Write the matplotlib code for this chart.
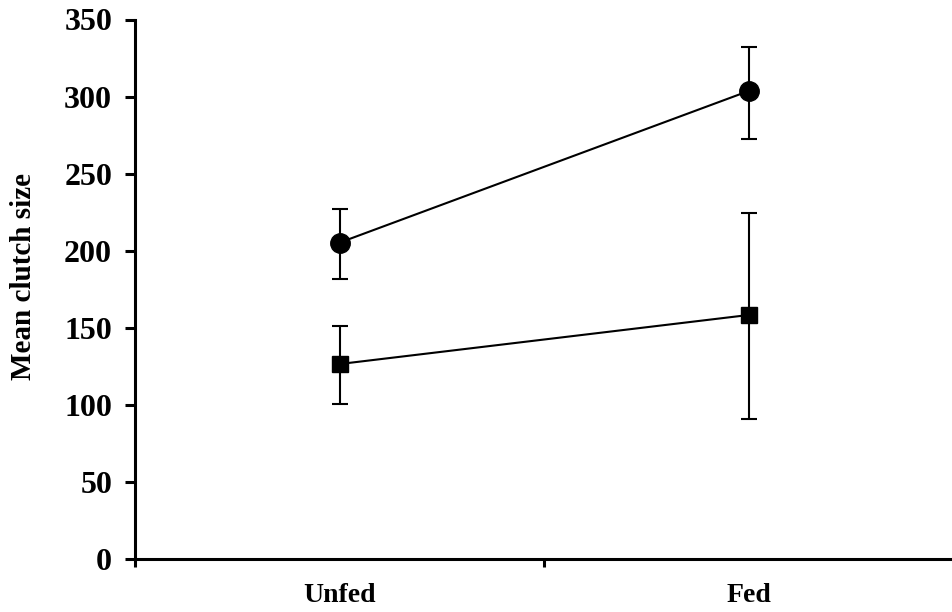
import matplotlib.pyplot as plt
import numpy as np

# Data
categories = ["Unfed", "Fed"]
circle_mean = [205.3, 303.6]
circle_low = [181.5, 272.7]
circle_high = [226.9, 332.0]
square_mean = [126.6, 158.4]
square_low = [100.9, 90.8]
square_high = [151.3, 224.5]

plt.rcParams['font.family'] = ['Liberation Serif', 'DejaVu Serif']
plt.rcParams['font.weight'] = 'bold'

fig = plt.figure(figsize=(9.52, 6.12), dpi=100)
ax = fig.add_axes([135 / 952, 1 - 559.3 / 612, 1 - 135 / 952, 539.8 / 612])

x = np.arange(len(categories)) + 0.5

def draw(mean, low, high, marker, ms):
    mean = np.array(mean)
    yerr = [mean - np.array(low), np.array(high) - mean]
    ax.errorbar(x, mean, yerr=yerr, color='black', lw=1.5, elinewidth=1.5,
                capsize=5.5, capthick=1.5, marker=marker, ms=ms,
                markerfacecolor='black', markeredgecolor='black', zorder=3)

draw(circle_mean, circle_low, circle_high, 'o', 14)
draw(square_mean, square_low, square_high, 's', 11)

ax.set_xlim(0, (952 - 135) / 409)
ax.set_ylim(0, 350)
ax.set_yticks(np.arange(0, 351, 50))
ax.set_xticks(x)
ax.set_xticklabels(categories)
ax.set_xticks([0, 1], minor=True)

for s in ['top', 'right']:
    ax.spines[s].set_visible(False)
for s in ['left', 'bottom']:
    ax.spines[s].set_linewidth(2.2)

ax.tick_params(axis='y', length=7.5, width=2.2, labelsize=23, pad=9)
ax.tick_params(axis='x', which='major', length=0, labelsize=20, pad=17)
ax.tick_params(axis='x', which='minor', length=6, width=2.2)

ax.set_ylabel("Mean clutch size", fontsize=21, fontweight='bold')
ax.yaxis.set_label_coords((37 - 135) / 817, 0.523)

plt.savefig("out.png", dpi=100)
